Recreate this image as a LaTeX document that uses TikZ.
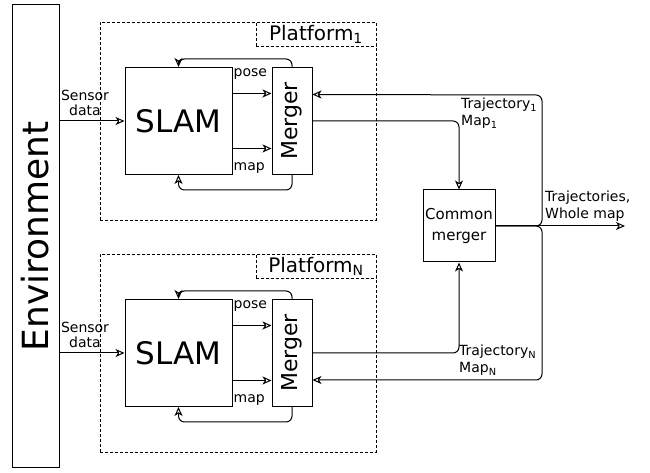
\documentclass[tikz,border=0pt]{standalone}
\usepackage{fontspec}
\setmainfont{DejaVu Sans}
\usetikzlibrary{arrows.meta,positioning}

\begin{document}
\begin{tikzpicture}[x=1pt,y=1pt,
  box/.style={draw, inner sep=0pt, line width=1pt},
  plat/.style={draw, dash pattern=on 3pt off 2pt, inner sep=0pt, line width=0.8pt},
  lbl/.style={font=\fontsize{14}{17}\selectfont, inner sep=1pt},
  flow/.style={line width=1pt, -{Stealth[open,length=9pt,width=8pt,inset=2.5pt]}},
  roundflow/.style={flow, rounded corners=6pt}]
\useasboundingbox (0,0) rectangle (650,473);
\def\bus{542}
\node[box, minimum width=47, minimum height=463] (env) at (35.5,236.5)
  {\rotatebox{90}{\fontsize{36}{40}\selectfont Environment}};
% one platform above, one below
\foreach \p/\y in {1/352, N/120} {
  \node[plat, minimum width=276, minimum height=198] (plat\p) at (238,\y) {};
  \node[plat, anchor=north east, minimum width=120, minimum height=24,
    font=\fontsize{20}{24}\selectfont] (tag\p) at (plat\p.north east) {Platform\textsubscript{\p}};
  \node[box, minimum size=107, font=\fontsize{31}{36}\selectfont] (slam\p) at (178.5,\y) {SLAM};
  \node[box, minimum width=40, minimum height=107] (merger\p) at (292,\y)
    {\rotatebox{90}{\fontsize{22}{26}\selectfont Merger}};
  \draw[flow] ([yshift=27.5]slam\p.east) -- ([yshift=27.5]merger\p.west);
  \draw[flow] ([yshift=-27.5]slam\p.east) -- ([yshift=-27.5]merger\p.west);
  \node[lbl, anchor=north west] (pose\p) at (slam\p.north east) {pose};
  \node[lbl, anchor=south west] (map\p) at (slam\p.south east) {map};
  \draw[roundflow] (merger\p.north) -- ++(0,8) -| (slam\p.north);
  \draw[roundflow] (merger\p.south) -- ++(0,-15) -| (slam\p.south);
  \draw[flow] (env.east |- slam\p.west) -- (slam\p.west);
  \node[lbl, align=center, anchor=south, font=\fontsize{14}{15}\selectfont] (sensor\p) at (85,\y+4) {Sensor\\data};
}
\node[box, minimum size=72, align=center, font=\fontsize{15}{21}\selectfont] (cm) at (459,247) {Common\\merger};
\draw[roundflow] (merger1.east) -| (cm.north);
\draw[roundflow] (mergerN.east) -| (cm.south);
% feedback to the platforms
\coordinate (in1) at ([yshift=26.5]merger1.east);
\coordinate (inN) at ([yshift=-27]mergerN.east);
\coordinate (turn1) at (\bus,378);
\coordinate (turnN) at (\bus,93);
\draw[roundflow] (cm.east) -| (turn1) -- (in1);
\draw[roundflow] (cm.east) -| (turnN) -- (inN);
\coordinate (out) at (625,247);
\draw[flow] (cm.east) -- (out);
\node[lbl, anchor=south west, align=left] (result) at (544,250) {Trajectories,\\Whole map};
\node[lbl, anchor=north west, align=left] (traj1) at (460,376) {Trajectory\textsubscript{1}\\Map\textsubscript{1}};
\node[lbl, anchor=south west, align=left] (trajN) at (458,96) {Trajectory\textsubscript{N}\\Map\textsubscript{N}};
\end{tikzpicture}
\end{document}
